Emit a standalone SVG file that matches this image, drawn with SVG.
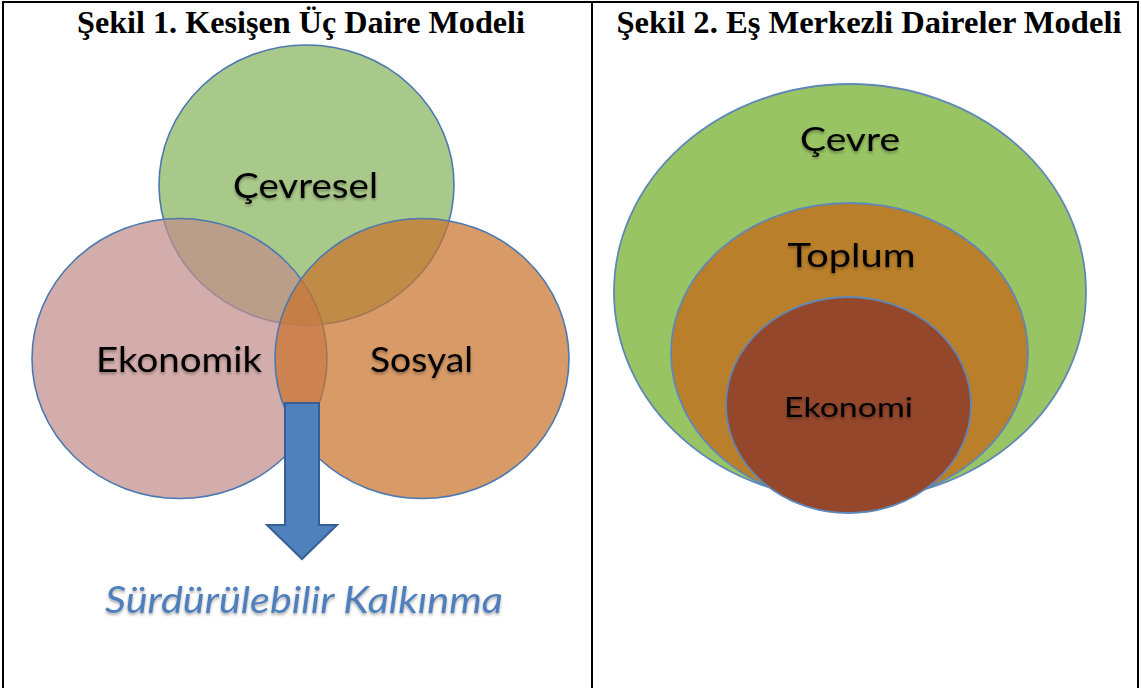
<svg xmlns="http://www.w3.org/2000/svg" width="1141" height="688" viewBox="0 0 1141 688">
<style>
.frame{stroke:#000;stroke-width:2;fill:none}
.title{font-family:"Liberation Serif","Times New Roman",serif;font-weight:bold;font-size:32px;fill:#000;text-anchor:middle}
.lbl{font-family:Lato,"Open Sans","Liberation Sans",sans-serif;fill:#000;text-anchor:middle}
.venn{fill-opacity:0.72;stroke:#4a78b0;stroke-width:1.6}
.ring{stroke:#5f87b8;stroke-width:1.8}
.arrow{fill:#4f81bd;stroke:#385f94;stroke-width:2}
.result{font-family:Lato,"Open Sans","Liberation Sans",sans-serif;font-style:italic;font-size:37px;fill:#4f7fbb;text-anchor:middle}
</style>
<defs>
<filter id="sh" x="-10%" y="-30%" width="120%" height="160%">
<feGaussianBlur in="SourceAlpha" stdDeviation="1.6"/>
<feOffset dx="0" dy="1.5" result="b"/>
<feComponentTransfer><feFuncA type="linear" slope="0.35"/></feComponentTransfer>
<feMerge><feMergeNode/><feMergeNode in="SourceGraphic"/></feMerge>
</filter>
</defs>
<rect width="1141" height="688" fill="#fff"/>
<g id="frame">
<line class="frame" x1="2" y1="2" x2="1139" y2="2"/>
<line class="frame" x1="3" y1="1" x2="3" y2="688"/>
<line class="frame" x1="592" y1="1" x2="592" y2="688"/>
<line class="frame" x1="1138" y1="1" x2="1138" y2="688"/>
</g>
<g id="titles">
<text class="title" x="301" y="33" textLength="448" lengthAdjust="spacingAndGlyphs">Şekil 1. Kesişen Üç Daire Modeli</text>
<text class="title" x="869" y="33" textLength="505" lengthAdjust="spacingAndGlyphs">Şekil 2. Eş Merkezli Daireler Modeli</text>
</g>
<g id="node-cevresel">
<ellipse class="venn" cx="306.5" cy="185" rx="147.5" ry="140" fill="#88b45d"/>
<text class="lbl" x="305.5" y="198" font-size="35" textLength="145" lengthAdjust="spacingAndGlyphs" filter="url(#sh)">Çevresel</text>
</g>
<g id="node-ekonomik">
<ellipse class="venn" cx="179.5" cy="358.5" rx="147.5" ry="140" fill="#c28d8a"/>
<text class="lbl" x="179" y="372" font-size="35" textLength="166" lengthAdjust="spacingAndGlyphs" filter="url(#sh)">Ekonomik</text>
</g>
<g id="node-sosyal">
<ellipse class="venn" cx="422" cy="358.5" rx="147" ry="140" fill="#c9732d"/>
<text class="lbl" x="421.5" y="372" font-size="35" textLength="103" lengthAdjust="spacingAndGlyphs" filter="url(#sh)">Sosyal</text>
</g>
<g id="connectors">
<path class="arrow" d="M285,403 H319 V525 H337 L302,559 L267,525 H285 Z"/>
</g>
<g id="node-surdurulebilir">
<text class="result" x="304" y="613" textLength="398" lengthAdjust="spacingAndGlyphs" filter="url(#sh)">Sürdürülebilir Kalkınma</text>
</g>
<g id="ring-cevre">
<ellipse class="ring" cx="850" cy="292" rx="236" ry="208" fill="#98c463"/>
<text class="lbl" x="850" y="151" font-size="33" textLength="100" lengthAdjust="spacingAndGlyphs" filter="url(#sh)">Çevre</text>
</g>
<g id="ring-toplum">
<ellipse class="ring" cx="849.5" cy="353" rx="178.5" ry="150" fill="#b97f2a"/>
<text class="lbl" x="851.5" y="267" font-size="33" textLength="128" lengthAdjust="spacingAndGlyphs" filter="url(#sh)">Toplum</text>
</g>
<g id="ring-ekonomi">
<ellipse class="ring" cx="848.5" cy="405" rx="122.5" ry="108" fill="#94472b"/>
<text class="lbl" x="848.5" y="417" font-size="27" textLength="129" lengthAdjust="spacingAndGlyphs" filter="url(#sh)">Ekonomi</text>
</g>
</svg>
